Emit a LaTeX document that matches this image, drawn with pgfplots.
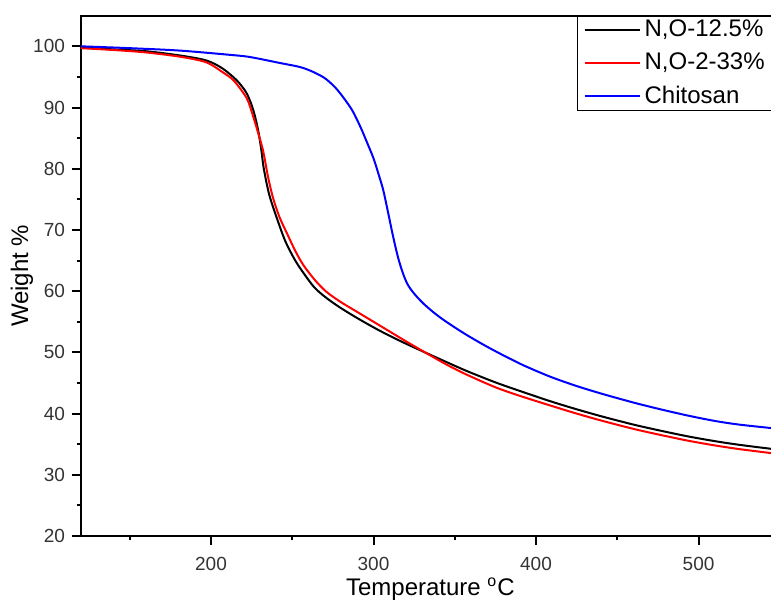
\documentclass[border=0pt]{standalone}
\usepackage{fontspec}
\setmainfont{Liberation Sans}
\usepackage{pgfplots}
\usepackage{pgfplotstable}
\pgfplotsset{compat=1.18}

% TGA curves
\pgfplotstableread{
T W
120 99.8
140 99.5
160 99.2
181 98.5
197 97.7
207 96.4
216 94.4
222 92.3
226 89.6
229 86.3
231 83.0
232.5 80.0
236 75.6
242 70.8
246 68.0
251 65.4
255 63.7
263 60.8
270 59.1
279 57.4
290 55.6
302 53.8
313 52.3
325 50.8
340 49.0
357 47.0
375 45.1
390 43.7
409 42.0
425 40.7
441 39.5
460 38.2
475 37.3
493 36.3
510 35.5
525 34.9
546 34.2
}\blacktab
\pgfplotstableread{
T W
120 99.7
140 99.4
160 99.0
181 98.3
197 97.4
207 95.8
214 94.4
222 91.5
226 88.5
228.5 86.3
232 83.0
235 78.8
238 75.4
242 72.2
247 69.3
252 66.5
257 64.2
264 61.8
271 59.9
280 58.2
290 56.6
300 55.0
310 53.4
320 51.8
333 49.8
345 48.0
357 46.4
375 44.3
390 42.9
409 41.3
425 40.0
441 38.8
460 37.5
475 36.6
493 35.6
510 34.8
525 34.2
546 33.5
}\redtab
\pgfplotstableread{
T W
120 100.0
150 99.7
181 99.3
212 98.6
224 98.25
242 97.3
255 96.6
263 95.8
270 94.8
276 93.4
281 91.8
287 89.5
292 86.8
296 84.3
300 81.7
303 79.2
306 76.5
309 72.8
312 69.0
315 65.6
318 63.0
321 61.1
325 59.6
331 57.9
339 56.1
347 54.6
357 52.9
368 51.2
380 49.5
393 47.8
409 46.0
425 44.5
441 43.2
460 41.8
475 40.8
493 39.7
510 38.8
525 38.2
546 37.6
}\bluetab

\begin{document}
\begin{tikzpicture}
\useasboundingbox (-40.5pt,-32pt) rectangle (345pt,268pt);
\clip (-40.5pt,-32pt) rectangle (345pt,268pt);
\begin{axis}[
  scale only axis,
  width=349.4pt, height=260.15pt,
  xmin=120, xmax=550, ymin=20, ymax=105,
  xtick={200,300,400,500},
  minor xtick={150,250,350,450},
  ytick={20,30,...,100},
  minor ytick={25,35,...,95},
  tick pos=left, tick align=outside,
  major tick length=4.5pt, minor tick length=2.2pt,
  axis line style={line width=1pt},
  every tick/.style={black, line width=1pt},
  /pgf/number format/assume math mode=true,
  ticklabel style={font=\fontsize{9.5}{11}\selectfont, text=black!80},
  xticklabel style={yshift=-2.5pt},
  xlabel={Temperature \textsuperscript{o}C},
  ylabel={Weight \%},
  label style={font=\fontsize{12}{14}\selectfont},
  xlabel style={at={(axis description cs:0.5,0)}, anchor=base, yshift=-29.5pt},
  ylabel style={at={(axis description cs:-0.0845,0.5)}, anchor=center},
  legend style={at={(0.71,1)}, anchor=north west, draw=black, line width=0.5pt,
    font=\fontsize{12}{14}\selectfont, inner xsep=3pt, inner ysep=0pt, row sep=2.5pt},
  legend cell align=left,
  legend image code/.code={\draw[#1, line width=1pt] (0pt,0pt) -- (27.5pt,0pt);},
  every axis plot/.append style={line width=1pt, smooth, tension=0.5},
]
\addplot[black] table {\blacktab};
\addlegendentry{N,O-12.5\%}
\addplot[red] table {\redtab};
\addlegendentry{N,O-2-33\%}
\addplot[blue] table {\bluetab};
\addlegendentry{Chitosan}
\end{axis}
\end{tikzpicture}
\end{document}
